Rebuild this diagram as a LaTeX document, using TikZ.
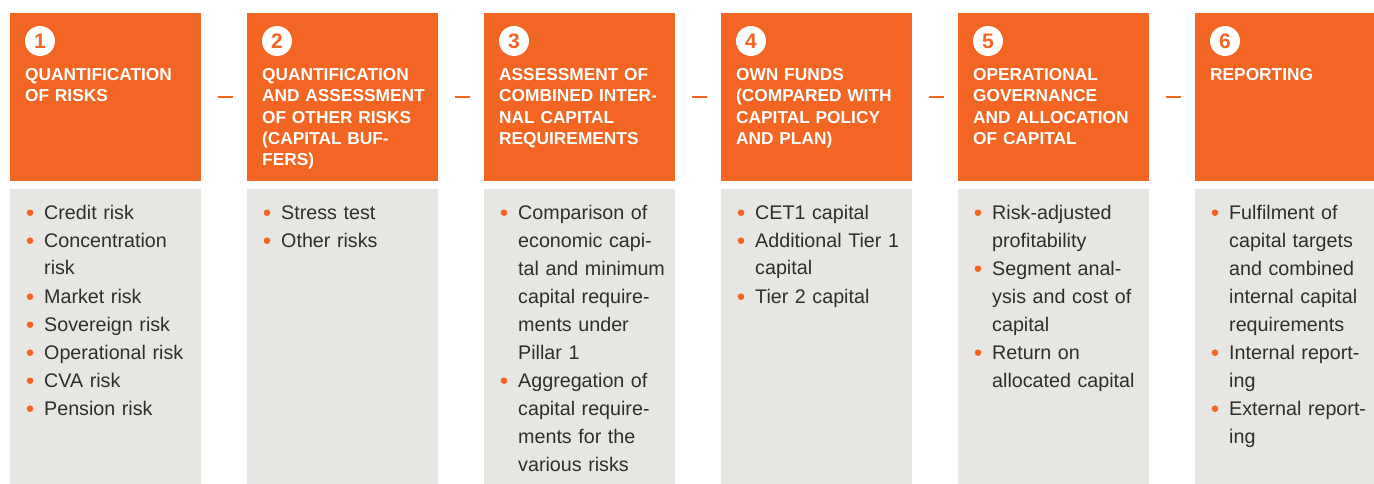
\documentclass[tikz,border=0pt]{standalone}
\usepackage{fontspec}
\setmainfont{Liberation Sans}
\definecolor{org}{HTML}{F26522}
\definecolor{gry}{HTML}{E7E6E2}
\definecolor{txt}{HTML}{2E2E2E}
\newcommand\bul[4]{%
  \node[dot] (#3d) at (#1+20, 212.7+28*#2) {};
  \node[itm] (#3) at (#1+34, 219+28*#2) {#4};}
\newcommand\col[4]{%
  \node[head] (h#1) at (#2,13) {};
  \node[body] (b#1) at (#2,189) {};
  \node[numc] (n#1) at (#2+30,41) {#1};
  \node[ttl] (t#1) at (#2+15,80.5) {#3};
  #4}
\begin{document}
\begin{tikzpicture}[x=1pt,y=-1pt,
  head/.style={fill=org, draw=none, inner sep=0pt, outer sep=0pt, anchor=north west, minimum width=191pt, minimum height=168pt},
  body/.style={fill=gry, draw=none, inner sep=0pt, outer sep=0pt, anchor=north west, minimum width=191pt, minimum height=295pt},
  numc/.style={circle, fill=white, minimum size=30pt, inner sep=0pt, text=org, font=\bfseries\fontsize{21}{21}\selectfont},
  ttl/.style={anchor=base west, inner sep=0pt, text width=185pt, align=left, text=white, font=\bfseries\fontsize{17.3}{21.3}\selectfont},
  itm/.style={anchor=base west, inner sep=0pt, text width=180pt, align=left, text=txt, font=\fontsize{19.7}{28}\selectfont},
  dot/.style={circle, fill=org, minimum size=6.6pt, inner sep=0pt},
  sep/.style={draw=org, line width=2.2pt}]
\useasboundingbox (0,0) rectangle (1374,484);
\begin{scope}
\clip (0,0) rectangle (1374,484);
\col{1}{10}{QUANTIFICATION\\OF RISKS}{%
  \bul{10}{0}{a1}{Credit risk}
  \bul{10}{1}{a2}{Concentration\\risk}
  \bul{10}{3}{a3}{Market risk}
  \bul{10}{4}{a4}{Sovereign risk}
  \bul{10}{5}{a5}{Operational risk}
  \bul{10}{6}{a6}{CVA risk}
  \bul{10}{7}{a7}{Pension risk}}
\col{2}{247}{QUANTIFICATION\\AND ASSESSMENT\\OF OTHER RISKS\\(CAPITAL BUF-\\FERS)}{%
  \bul{247}{0}{c1}{Stress test}
  \bul{247}{1}{c2}{Other risks}}
\col{3}{484}{ASSESSMENT OF\\COMBINED INTER-\\NAL CAPITAL\\REQUIREMENTS}{%
  \bul{484}{0}{e1}{Comparison of\\economic capi-\\tal and minimum\\capital require-\\ments under\\Pillar 1}
  \bul{484}{6}{e2}{Aggregation of\\capital require-\\ments for the\\various risks}}
\col{4}{721}{OWN FUNDS\\(COMPARED WITH\\CAPITAL POLICY\\AND PLAN)}{%
  \bul{721}{0}{f1}{CET1 capital}
  \bul{721}{1}{f2}{Additional Tier 1\\capital}
  \bul{721}{3}{f3}{Tier 2 capital}}
\col{5}{958}{OPERATIONAL\\GOVERNANCE\\AND ALLOCATION\\OF CAPITAL}{%
  \bul{958}{0}{g1}{Risk-adjusted\\profitability}
  \bul{958}{2}{g2}{Segment anal-\\ysis and cost of\\capital}
  \bul{958}{5}{g3}{Return on\\allocated capital}}
\col{6}{1195}{REPORTING}{%
  \bul{1195}{0}{k1}{Fulfilment of\\capital targets\\and combined\\internal capital\\requirements}
  \bul{1195}{5}{k2}{Internal report-\\ing}
  \bul{1195}{7}{k3}{External report-\\ing}}
\foreach \i/\j in {1/2,2/3,3/4,4/5,5/6}
  \draw[sep] ([xshift=17pt]h\i.east) -- ([xshift=-14pt]h\j.west);
\end{scope}
\end{tikzpicture}
\end{document}
